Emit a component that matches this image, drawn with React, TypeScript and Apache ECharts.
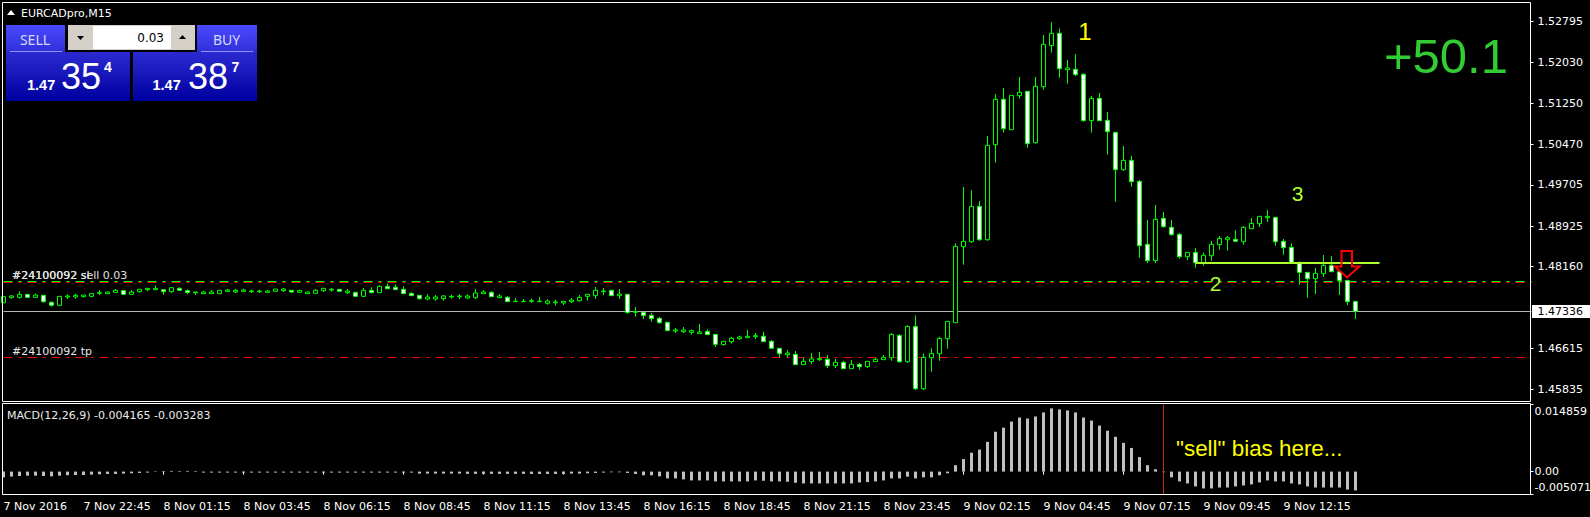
import React, { useEffect, useRef } from "react";
import * as echarts from "echarts";

// Prices in points (1/100000)
const opens = [
147477,147572,147578,147635,147578,147616,147484,147427,147585,147585,
147591,147597,147654,147648,147673,147705,147635,147686,147723,147723,
147723,147686,147749,147705,147667,147648,147648,147648,147692,147679,
147692,147686,147686,147673,147692,147705,147711,147673,147648,147654,
147705,147717,147730,147667,147673,147597,147711,147667,147787,147768,
147730,147654,147616,147547,147547,147553,147585,147591,147566,147572,
147648,147673,147572,147578,147496,147496,147503,147496,147465,147477,
147471,147496,147515,147597,147610,147686,147711,147610,147636,147295,
147295,147238,147181,147106,146942,146929,146916,146891,146935,146878,
146683,146740,146796,146815,146834,146841,146746,146613,146494,146500,
146304,146361,146399,146405,146285,146348,146229,146311,146266,146361,
146399,146435,146858,146360,147028,145848,146435,146511,146795,147098,
148536,148631,149300,148669,150467,151326,150751,151395,151477,150505,
151565,152341,152575,151887,151893,151799,150922,151344,150928,150701,
149994,150171,149773,148581,148272,149073,148903,148770,148347,148429,
148234,148366,148575,148669,148676,148631,148877,148972,149086,149092,
148638,148524,148234,148051,147931,148026,148183,148063,147899,147502];
const closes = [
147591,147604,147635,147578,147622,147496,147427,147597,147604,147616,
147622,147648,147667,147679,147711,147635,147679,147730,147749,147749,
147686,147761,147711,147667,147679,147679,147679,147711,147717,147711,
147717,147698,147698,147698,147736,147736,147679,147705,147679,147711,
147749,147730,147692,147698,147597,147711,147667,147787,147742,147723,
147648,147610,147553,147585,147585,147604,147597,147604,147604,147660,
147679,147591,147604,147496,147503,147503,147515,147503,147509,147490,
147503,147528,147578,147635,147711,147698,147610,147641,147289,147308,
147232,147175,147099,146948,146960,146960,146948,146923,146872,146689,
146746,146803,146828,146841,146853,146740,146613,146512,146525,146304,
146367,146412,146418,146285,146348,146229,146311,146266,146367,146405,
146443,146877,146360,147028,145848,146442,146517,146801,147123,148543,
148637,149300,148669,150455,151326,150770,151401,151458,150486,151572,
152367,152575,151906,151919,151793,150922,151344,150922,150713,149994,
150171,149767,148555,148272,149054,148915,148764,148347,148429,148234,
148373,148581,148694,148707,148638,148903,148978,149111,149111,148631,
148518,148240,148051,147931,148032,148183,148063,147893,147496,147313];
const lows = [
147477,147553,147553,147578,147578,147477,147402,147427,147547,147553,
147578,147578,147622,147648,147673,147635,147635,147667,147692,147723,
147629,147667,147698,147641,147622,147648,147648,147648,147679,147660,
147679,147660,147660,147673,147692,147679,147667,147673,147648,147654,
147679,147686,147692,147641,147597,147597,147654,147667,147730,147717,
147648,147610,147534,147521,147515,147515,147553,147547,147547,147547,
147648,147591,147572,147496,147496,147496,147471,147496,147439,147421,
147433,147471,147496,147515,147547,147622,147610,147547,147270,147213,
147169,147118,147080,146948,146904,146904,146872,146891,146872,146639,
146664,146702,146778,146815,146790,146740,146613,146443,146443,146304,
146304,146317,146374,146241,146241,146229,146229,146203,146241,146361,
146399,146378,146341,146341,145823,145823,146170,146378,146606,147098,
148196,148612,148650,148650,150127,150695,150751,151338,150411,150486,
151509,152209,151736,151622,151767,150903,150695,150922,150278,149388,
149975,149672,148328,148228,148228,148896,148745,148310,148284,148139,
148177,148272,148480,148461,148638,148575,148877,148909,149004,148556,
148385,148240,147817,147571,147641,147962,148063,147622,147432,147167];
const highs = [
147591,147622,147692,147635,147648,147616,147503,147597,147635,147648,
147622,147648,147717,147679,147736,147705,147717,147730,147749,147805,
147723,147761,147768,147730,147679,147698,147717,147711,147736,147742,
147742,147723,147723,147717,147736,147755,147711,147723,147679,147736,
147749,147755,147730,147736,147673,147755,147768,147805,147843,147824,
147787,147673,147616,147641,147622,147622,147629,147641,147635,147736,
147717,147692,147641,147604,147566,147547,147553,147585,147540,147534,
147503,147566,147622,147635,147774,147755,147723,147736,147636,147396,
147295,147282,147207,147106,146998,147017,146967,147074,146973,146878,
146746,146828,146853,146960,146904,146929,146771,146613,146582,146563,
146437,146525,146544,146487,146412,146374,146393,146336,146367,146430,
146487,146902,146883,147047,147237,146517,146612,146833,147123,148600,
149666,149609,149401,150631,151427,151540,151401,151748,151477,151748,
152543,152789,152663,152070,152184,151818,151389,151445,151086,150701,
150442,150259,149799,149041,149325,149193,149041,148795,148429,148511,
148429,148644,148739,148739,148852,148928,149079,149111,149231,149092,
148682,148600,148259,148051,148133,148379,148360,148063,147899,147502];
const macdValues = [
-0.00127,-0.0011,-0.00097,-0.0009,-0.0009,-0.00097,-0.00105,-0.0009,-0.0008,-0.00075,
-0.00075,-0.00067,-0.0006,-0.00052,-0.00052,-0.00045,-0.00037,-0.0003,-0.00022,-0.0001,
0.00012,0.00015,0.00012,0.00015,0.00012,-0.00022,-0.00022,-0.00022,-0.00022,-0.00022,
-0.00022,-0.00022,-0.00022,-0.00022,-0.00022,-0.00022,-0.00022,-0.00022,-0.00022,-0.00022,
-0.00022,-0.00022,-0.00022,-0.00022,-0.00022,-0.00022,-0.00022,-0.00022,-0.00022,-0.00022,
-0.00022,-0.00022,-0.00045,-0.00045,-0.00045,-0.00045,-0.00045,-0.00045,-0.0005,-0.0005,
-0.0005,-0.0005,-0.0005,-0.0005,-0.0005,-0.0005,-0.00052,-0.00052,-0.00052,-0.00052,
-0.00052,-0.00045,-0.00045,-0.00037,-0.0003,-0.00022,-0.00015,-0.00015,-0.0003,-0.00052,
-0.00082,-0.00082,-0.00105,-0.0015,-0.0015,-0.00172,-0.00195,-0.00195,-0.00195,-0.00217,
-0.00217,-0.00217,-0.00217,-0.00217,-0.00195,-0.00202,-0.00217,-0.00217,-0.00225,-0.00247,
-0.00262,-0.00262,-0.00262,-0.00262,-0.00262,-0.00262,-0.00262,-0.0024,-0.00232,-0.00217,
-0.00195,-0.0015,-0.0015,-0.00112,-0.0015,-0.00127,-0.00127,-0.00082,-0.00037,0.00142,
0.00277,0.00419,0.00487,0.00659,0.00883,0.00973,0.01108,0.01198,0.01175,0.0122,
0.0131,0.014,0.01377,0.01355,0.0131,0.01198,0.0113,0.01018,0.00906,0.00771,
0.00636,0.00524,0.00322,0.00142,0.00052,-0.00015,-0.00127,-0.00217,-0.00262,-0.00329,
-0.00374,-0.00374,-0.00352,-0.00352,-0.00329,-0.00307,-0.00284,-0.0024,-0.00195,-0.00217,
-0.00217,-0.00262,-0.00284,-0.00329,-0.00352,-0.00352,-0.00352,-0.00352,-0.00397,-0.004165];

const xTickLabels = [
  "7 Nov 2016","7 Nov 22:45","8 Nov 01:15","8 Nov 03:45","8 Nov 06:15","8 Nov 08:45","8 Nov 11:15",
  "8 Nov 13:45","8 Nov 16:15","8 Nov 18:45","8 Nov 21:15","8 Nov 23:45","9 Nov 02:15","9 Nov 04:45",
  "9 Nov 07:15","9 Nov 09:45","9 Nov 12:15",
];
const priceTicks = [1.52795,1.5203,1.5125,1.5047,1.49705,1.48925,1.4816,1.46615,1.45835];
const macdTicks = [-0.005071,0,0.014859];
const macdTickLabels = ["-0.005071","0.00","0.014859"];
const sellLevelGreen = 1.478779;
const sellLevelRed = 1.47859;
const tpLevel = 1.464396;
const bidLevel = 1.473102;
const trendLevel = 1.48228;
const trendStart = 149;
const trendEnd = 172;
const signalBar = 145;
const slotCount = 192;

const FONT = "'DejaVu Sans'";
const ARIAL = "'Liberation Sans'";
const NOTO = "'Noto Sans'";

const categories = Array.from({ length: slotCount }, (_, i) =>
  i % 10 === 0 && i / 10 < xTickLabels.length ? xTickLabels[i / 10] : ""
);
const candles = opens.map((o, i) => [o / 1e5, closes[i] / 1e5, lows[i] / 1e5, highs[i] / 1e5]);
const isTick = (i: number) => i % 10 === 0 && i <= 160;

function txt(text: string, x: number, y: number, fill: string, fontSize: number, fontFamily = FONT, extra: any = {}) {
  return {
    type: "text",
    x,
    y,
    silent: true,
    z: 200,
    style: { text, fill, fontSize, fontFamily, textVerticalAlign: "middle", verticalAlign: "middle", ...extra },
  };
}
function box(x: number, y: number, w: number, h: number, fill: any, stroke?: string, zz = 150) {
  return {
    type: "rect",
    silent: true,
    z: zz,
    shape: { x, y, width: w, height: h },
    style: { fill: fill, stroke: stroke ?? "none", lineWidth: 1 },
  };
}
const grad = (a: string, b: string) => new echarts.graphic.LinearGradient(0, 0, 0, 1, [
  { offset: 0, color: a },
  { offset: 1, color: b },
]);
const levelLine = (value: number, color: string, width: number, dash: any, z: number, from = 0, to = slotCount - 1) => ({
  type: "line",
  xAxisIndex: 0,
  yAxisIndex: 0,
  data: [[from, value], [to, value]],
  showSymbol: false,
  symbol: "none",
  silent: true,
  z,
  lineStyle: { color, width, type: dash },
});

export default function App() {
  const ref = useRef<HTMLDivElement>(null);
  useEffect(() => {
    document.body.style.margin = "0";
    document.body.style.background = "#000";
    const chart = echarts.init(ref.current!, undefined, { renderer: "svg" });
    const dash = [9, 6, 3, 6];
    chart.setOption({
      animation: false,
      backgroundColor: "#000",
      grid: [
        { left: 3.5, width: 1528, top: 2.5, height: 399, outerBoundsMode: "none" },
        { left: 3.5, width: 1528, top: 404.5, height: 90, outerBoundsMode: "none" },
      ],
      xAxis: [
        {
          type: "category", gridIndex: 0, data: categories, boundaryGap: false, min: 0, max: slotCount - 1,
          axisLine: { show: false }, axisTick: { show: false }, axisLabel: { show: false }, splitLine: { show: false },
        },
        {
          type: "category", gridIndex: 1, data: categories, boundaryGap: false, min: 0, max: slotCount - 1,
          axisLine: { show: false },
          axisTick: { show: true, interval: (i: number) => isTick(i), length: 3, lineStyle: { color: "#fff" }, alignWithLabel: true },
          axisLabel: {
            show: true, interval: (i: number) => isTick(i), color: "#fff", fontFamily: FONT, fontSize: 11,
            align: "left", margin: 6, hideOverlap: false,
          },
          splitLine: { show: false },
        },
      ],
      yAxis: [
        {
          type: "value", gridIndex: 0, position: "right", offset: -1, min: 1.45607, max: 1.53158, scale: true,
          axisLine: { show: false },
          splitLine: { show: false },
          axisTick: { show: true, length: 3, lineStyle: { color: "#fff" }, customValues: priceTicks },
          axisLabel: {
            color: "#fff", fontFamily: FONT, fontSize: 11, margin: 7,
            customValues: priceTicks, formatter: (v: number) => v.toFixed(5),
            showMinLabel: true, showMaxLabel: true,
          },
        },
        {
          type: "value", gridIndex: 1, position: "right", offset: -1, min: -0.005071, max: 0.014859,
          axisLine: { show: false },
          splitLine: { show: false },
          axisTick: { show: true, length: 3, lineStyle: { color: "#fff" }, customValues: macdTicks },
          axisLabel: {
            color: "#fff", fontFamily: FONT, fontSize: 11, margin: 4, lineHeight: 14,
            customValues: macdTicks,
            formatter: (v: number) => macdTickLabels[macdTicks.indexOf(v)] ?? String(v),
            verticalAlignMinLabel: "bottom", verticalAlignMaxLabel: "top",
            showMinLabel: true, showMaxLabel: true,
          },
        },
      ],
      series: [
        levelLine(sellLevelRed, "#ff0000", 1, dash, 1),
        levelLine(sellLevelGreen, "#00ff00", 1, dash, 1),
        levelLine(tpLevel, "#ff0000", 1, dash, 1),
        levelLine(bidLevel, "#b4b4b4", 1, "solid", 1),
        {
          type: "candlestick", xAxisIndex: 0, yAxisIndex: 0, data: candles, z: 2, barWidth: 4, clip: false, large: false,
          itemStyle: {
            color: "#000", color0: "#fff", borderColor: "#00ff00", borderColor0: "#00ff00", borderColorDoji: "#00ff00", borderWidth: 1,
          },
          silent: true,
        },
        levelLine(trendLevel, "#adff2f", 2, "solid", 3, trendStart, trendEnd),
        {
          type: "bar", xAxisIndex: 1, yAxisIndex: 1, data: macdValues, barWidth: 3, z: 2, silent: true,
          itemStyle: { color: "#c0c0c0" },
        },
        {
          type: "line", xAxisIndex: 1, yAxisIndex: 1, silent: true, z: 3, symbol: "none", showSymbol: false,
          data: [[signalBar, macdTicks[0]], [signalBar, macdTicks[2]]],
          lineStyle: { color: "#c8201a", width: 1 },
        },
      ],
      graphic: [
        // frames
        { type: "rect", silent: true, z: 120, shape: { x: 2.5, y: 2.5, width: 1528, height: 399 }, style: { fill: "none", stroke: "#fff", lineWidth: 1 } },
        { type: "rect", silent: true, z: 120, shape: { x: 2.5, y: 403.5, width: 1528, height: 91 }, style: { fill: "none", stroke: "#fff", lineWidth: 1 } },
        // title
        { type: "polygon", silent: true, z: 200, shape: { points: [[7, 15], [15, 15], [11, 10]] }, style: { fill: "#fff" } },
        txt("EURCADpro,M15", 21, 13, "#fff", 11),
        // trade panel
        box(6, 25, 59, 27, grad("#4a4aff", "#3030d8")),
        box(197, 25, 60, 27, grad("#4a4aff", "#3030d8")),
        box(6, 52, 124, 49, grad("#2a2ad0", "#0000a0")),
        box(133, 52, 124, 49, grad("#2a2ad0", "#0000a0")),
        { type: "line", silent: true, z: 160, shape: { x1: 10, y1: 51.5, x2: 62, y2: 51.5 }, style: { stroke: "#9090ff", lineWidth: 1 } },
        { type: "line", silent: true, z: 160, shape: { x1: 201, y1: 51.5, x2: 253, y2: 51.5 }, style: { stroke: "#9090ff", lineWidth: 1 } },
        box(68, 25, 127, 25, "#d4d0c8"),
        box(93, 26, 78, 23, "#fff"),
        { type: "polygon", silent: true, z: 200, shape: { points: [[77, 36], [84, 36], [80.5, 40]] }, style: { fill: "#000" } },
        { type: "polygon", silent: true, z: 200, shape: { points: [[179, 39], [186, 39], [182.5, 35]] }, style: { fill: "#000" } },
        txt("0.03", 164, 38, "#000", 12, FONT, { textAlign: "right", align: "right" }),
        txt("SELL", 35, 39, "#d8d8ff", 14, NOTO, { textAlign: "center", align: "center" }),
        txt("BUY", 226.5, 39, "#d8d8ff", 14, NOTO, { textAlign: "center", align: "center" }),
        txt("1.47", 27, 85, "#fff", 14.5, ARIAL, { fontWeight: "bold" }),
        txt("35", 61, 76.5, "#fff", 36, ARIAL),
        txt("4", 104, 67, "#fff", 14, ARIAL, { fontWeight: "bold" }),
        txt("1.47", 152.5, 85, "#fff", 14.5, ARIAL, { fontWeight: "bold" }),
        txt("38", 188, 76.5, "#fff", 36, ARIAL),
        txt("7", 231.5, 67, "#fff", 14, ARIAL, { fontWeight: "bold" }),
        // annotations
        txt("+50.1", 1384, 56, "#32cd32", 49, ARIAL),
        txt("1", 1085, 31, "#ffff00", 24, ARIAL, { textAlign: "center", align: "center" }),
        txt("2", 1215.5, 283.5, "#adff2f", 21, ARIAL, { textAlign: "center", align: "center" }),
        txt("3", 1297.5, 193, "#adff2f", 21, ARIAL, { textAlign: "center", align: "center" }),
        txt("\"sell\" bias here...", 1176, 448, "#ffff00", 22.4, ARIAL),
        txt("#24100092 sl", 12, 275, "#ffffff", 11),
        txt("#24100092 sell 0.03", 12, 275, "#e0e0e0", 11),
        txt("#24100092 tp", 12, 351, "#e8e8e8", 11),
        txt("MACD(12,26,9) -0.004165 -0.003283", 7, 415, "#ececec", 11),
        // red arrow
        {
          type: "polygon", silent: true, z: 180,
          shape: { points: [[1341.5, 251], [1352, 251], [1352, 266.5], [1359.5, 266.5], [1347, 277.5], [1335, 266.5], [1341.5, 266.5]] },
          style: { fill: "none", stroke: "#ff0000", lineWidth: 2 },
        },
        // bid tag
        box(1532, 305, 58, 13, "#fff"),
        txt("1.47336", 1537.5, 311.5, "#000", 11),
      ],
    });
    return () => chart.dispose();
  }, []);
  return <div ref={ref} style={{ width: 1590, height: 517, background: "#000" }} />;
}
